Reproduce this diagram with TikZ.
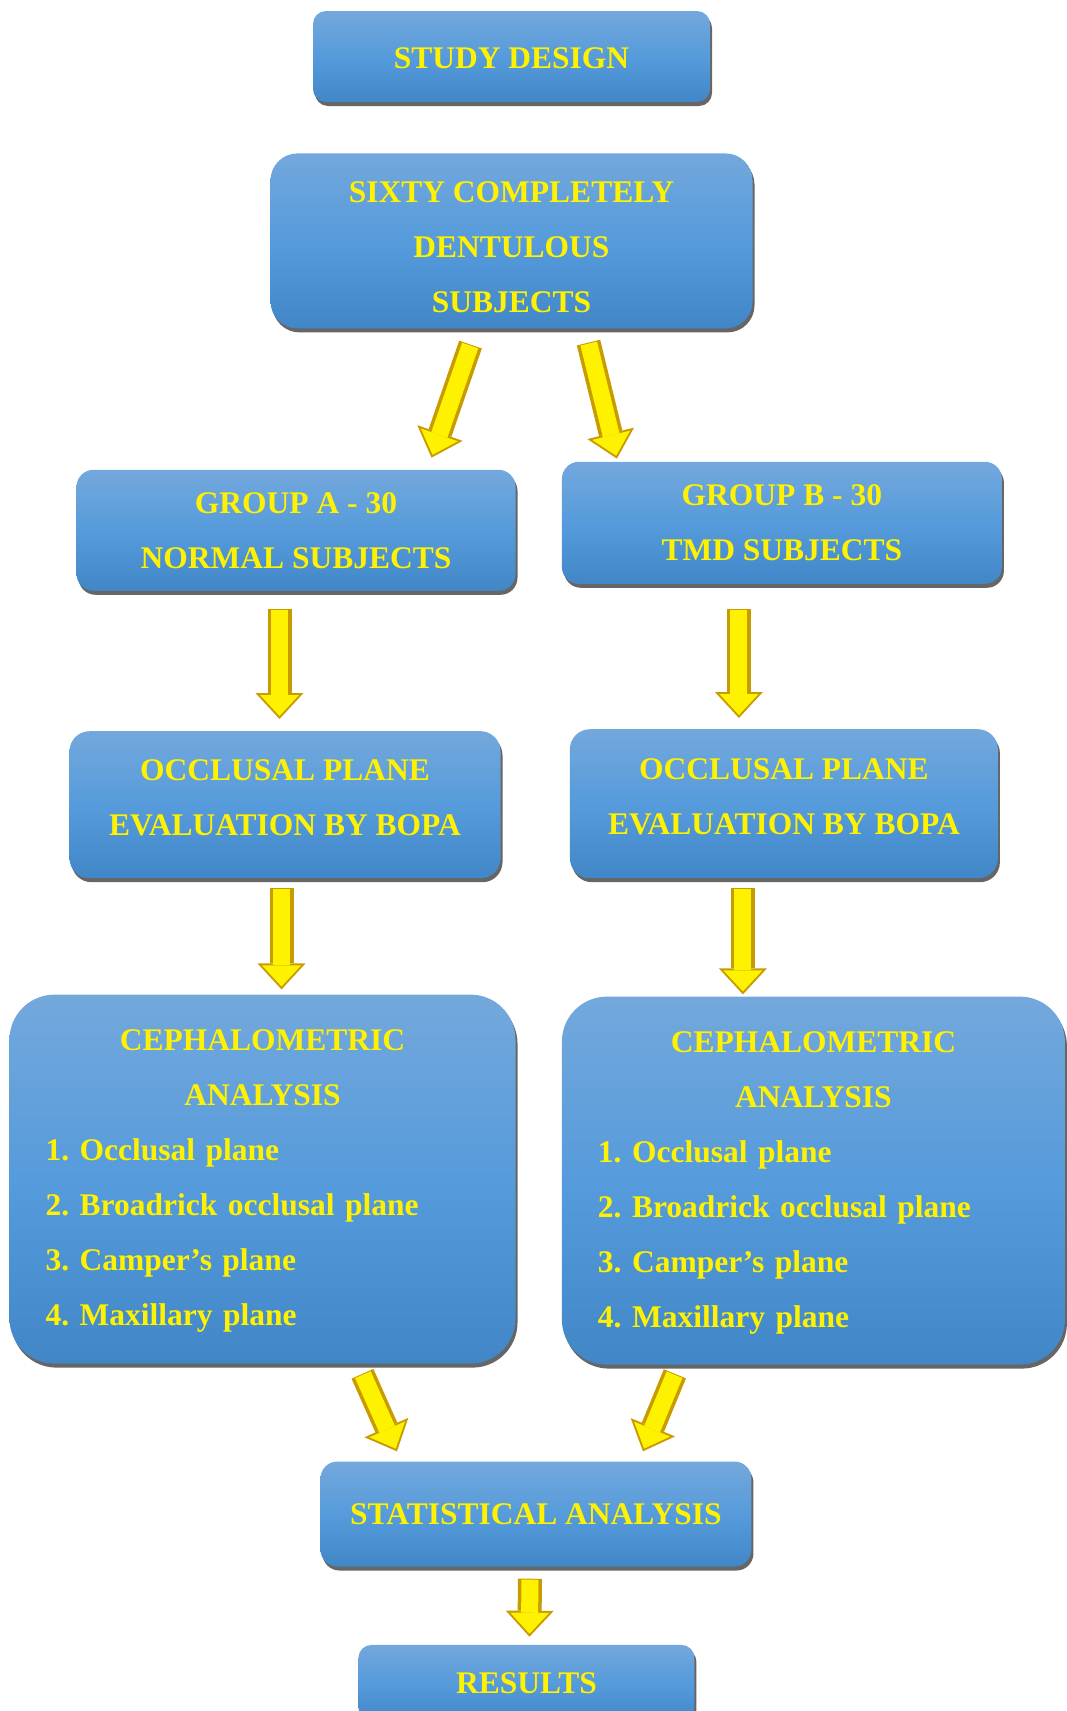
\documentclass[tikz,border=0pt]{standalone}
\usepackage{fontspec}
\setmainfont{Liberation Serif}
\usetikzlibrary{positioning,calc,shadows,arrows.meta}
\definecolor{boxtop}{RGB}{115,168,220}
\definecolor{boxmid}{RGB}{86,155,219}
\definecolor{boxbot}{RGB}{65,135,199}
\definecolor{arrowedge}{RGB}{200,155,0}
\tikzset{
 box/.style
  = {rectangle, rounded corners=#1, top color=boxtop, bottom color=boxbot, middle color=boxmid,
     text=yellow, font=\bfseries\fontsize{31.5pt}{55pt}\selectfont\frenchspacing, align=center, inner sep=0pt,
     drop shadow={shadow xshift=2pt, shadow yshift=-4pt, fill=black!60, opacity=1}},
 box/.default=17pt,
 listbox/.style
  = {box=45pt, align=left, inner xsep=36pt, text height=25pt},
 ya/.style
  = {draw=arrowedge, line width=24pt, -{Triangle[width=48pt,length=26pt,line width=0pt]},
     postaction={draw=yellow, line width=17pt, shorten >=3pt, shorten <=1pt,
     -{Triangle[width=39pt,length=21pt,line width=0pt]}}}
}
\begin{document}
\begin{tikzpicture}[x=1pt, y=1pt]
    \useasboundingbox (0,0) rectangle (1066,-1711);
    \node [box=13pt, minimum width=397pt, minimum height=91pt, text height=25pt] (study) at (511.5,-56.5) {STUDY DESIGN};
    \node [box=27pt, minimum width=482pt, minimum height=175pt, text height=143pt, below=51pt of study] (sixty) {SIXTY COMPLETELY\\ DENTULOUS\\ SUBJECTS};
    \node [box, minimum width=439pt, minimum height=121pt, below=141pt of sixty, xshift=-215.5pt] (groupA) {GROUP A - 30\\ NORMAL SUBJECTS};
    \node [box, minimum width=440pt, minimum height=122pt, right=46pt of groupA, yshift=7.5pt] (groupB) {GROUP B - 30\\ TMD SUBJECTS};
    \node [box=20pt, minimum width=431pt, minimum height=147pt, text depth=15pt, below=140pt of groupA, xshift=-11pt] (bopaA) {OCCLUSAL PLANE\\ EVALUATION BY BOPA};
    \node [box=20pt, minimum width=428pt, minimum height=149pt, text depth=15pt, below=145pt of groupB, xshift=2pt] (bopaB) {OCCLUSAL PLANE\\ EVALUATION BY BOPA};
    \node [listbox, text width=434pt, minimum height=369pt, below=116pt of bopaA, xshift=-22.5pt] (cephA) {{\centering CEPHALOMETRIC\\ ANALYSIS\par}1. Occlusal plane\\ 2. Broadrick occlusal plane\\ 3. Camper’s plane\\ 4. Maxillary plane};
    \node [listbox, text width=431pt, minimum height=368pt, below=118pt of bopaB, xshift=29.5pt] (cephB) {{\centering CEPHALOMETRIC\\ ANALYSIS\par}1. Occlusal plane\\ 2. Broadrick occlusal plane\\ 3. Camper’s plane\\ 4. Maxillary plane};
    \coordinate (mid) at ($(cephA.south)!0.5!(cephB.south)$);
    \node [box, minimum width=431pt, minimum height=105pt, below=97pt of mid, xshift=-2pt] (stats) {STATISTICAL ANALYSIS};
    \node [box=13pt, minimum width=336pt, minimum height=76pt, below=78pt of stats, xshift=-9.5pt] (results) {RESULTS};

    % split into the two groups
    \path [ya] ([xshift=-41pt,yshift=-16pt]sixty.south) -- ([xshift=135.5pt,yshift=12pt]groupA.north);
    \path [ya] ([xshift=77pt,yshift=-14pt]sixty.south) -- ([xshift=-165pt,yshift=3pt]groupB.north);
    \path [ya] ([xshift=-16.5pt,yshift=-18pt]groupA.south) -- ([xshift=-5.5pt,yshift=12pt]bopaA.north);
    \path [ya] ([xshift=-43pt,yshift=-25pt]groupB.south) -- ([xshift=-45pt,yshift=11pt]bopaB.north);
    \path [ya] ([xshift=-3.5pt,yshift=-10pt]bopaA.south) -- ([xshift=19pt,yshift=5pt]cephA.north);
    \path [ya] ([xshift=-41pt,yshift=-10pt]bopaB.south) -- ([xshift=-70.5pt,yshift=2pt]cephB.north);
    % back together
    \path [ya] ([xshift=100pt,yshift=-10pt]cephA.south) -- ([xshift=-139pt,yshift=10pt]stats.north);
    \path [ya] ([xshift=-138.5pt,yshift=-9pt]cephB.south) -- ([xshift=107pt,yshift=10pt]stats.north);
    \path [ya] ([xshift=-6pt,yshift=-12pt]stats.south) -- ([xshift=3pt,yshift=8pt]results.north);

\end{tikzpicture}
\end{document}
